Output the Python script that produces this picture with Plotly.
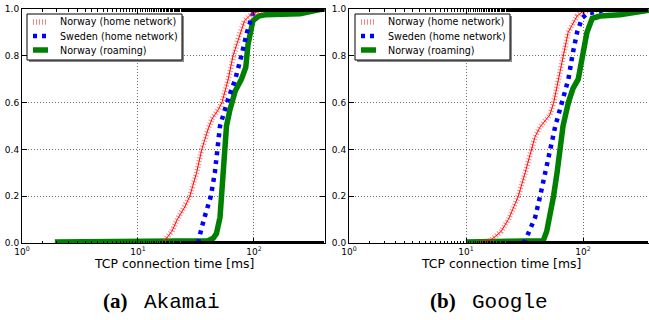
import plotly.graph_objects as go
import math

# ---------- data ----------
series_names = ["Norway (home network)", "Sweden (home network)", "Norway (roaming)"]

# (a) Akamai
ak_no_home_x = [16.4, 17.7, 19.6, 21.8, 25.4, 28, 32, 35.5, 40, 43.5, 49, 53, 60, 66, 71, 76, 83, 96, 129]
ak_no_home_y = [0.0, 0.02, 0.05, 0.10, 0.155, 0.20, 0.30, 0.40, 0.483, 0.53, 0.568, 0.60, 0.70, 0.80, 0.85, 0.90, 0.95, 0.98, 1.0]
ak_se_home_x = [33, 33.6, 37, 40, 42.5, 46, 48, 51, 58.5, 69, 78, 87, 98, 115]
ak_se_home_y = [0.0, 0.02, 0.10, 0.155, 0.20, 0.30, 0.40, 0.50, 0.60, 0.70, 0.80, 0.90, 0.98, 1.0]
ak_no_roam_x = [1.92, 30, 40, 44.5, 47.5, 51, 52.5, 54, 56, 58, 62, 69, 78, 85, 89, 93, 98, 110, 125, 250, 300, 370, 420]
ak_no_roam_y = [0.004, 0.005, 0.01, 0.02, 0.04, 0.11, 0.20, 0.27, 0.40, 0.50, 0.568, 0.65, 0.70, 0.75, 0.85, 0.90, 0.95, 0.97, 0.975, 0.98, 0.99, 0.998, 1.0]

# (b) Google
go_no_home_x = [12.4, 16, 18, 20, 23, 25.5, 28, 32, 36.5, 38.9, 43, 52, 56, 61.5, 67.7, 74.6, 89, 100, 148]
go_no_home_y = [0.0, 0.01, 0.03, 0.05, 0.10, 0.15, 0.20, 0.30, 0.40, 0.454, 0.496, 0.547, 0.597, 0.70, 0.80, 0.90, 0.97, 0.99, 1.0]
go_se_home_x = [30.8, 32, 35.4, 39, 43, 47.6, 52, 58, 66, 75, 81, 89, 98, 108, 150, 208]
go_se_home_y = [0.0, 0.01, 0.06, 0.11, 0.20, 0.30, 0.40, 0.50, 0.60, 0.70, 0.80, 0.90, 0.96, 0.98, 0.995, 1.0]
go_no_roam_x = [10, 40, 45.7, 49, 52, 56, 60, 64, 67.5, 75, 82, 91, 100, 108, 120, 140, 207, 290, 366]
go_no_roam_y = [0.004, 0.005, 0.01, 0.05, 0.11, 0.20, 0.30, 0.40, 0.50, 0.60, 0.66, 0.70, 0.80, 0.90, 0.96, 0.97, 0.975, 0.985, 0.995]

y_ticks = [0.0, 0.2, 0.4, 0.6, 0.8, 1.0]
x_ticks = [1, 10, 100]
x_tick_text = ["10<sup>0</sup>", "10<sup>1</sup>", "10<sup>2</sup>"]
x_title = "TCP connection time [ms]"
captions = [("(a)", "Akamai"), ("(b)", "Google")]

# ---------- styles ----------
RED_TICK = dict(color="rgba(255,60,60,0.65)", width=5.5, dash="1px,2px")
RED_LINE = dict(color="#ff0000", width=1)
BLUE = dict(color="#0000ff", width=4.5, dash="4px,5px")
GREEN = dict(color="#008000", width=5.5)
GRID_COLOR = "#707070"
GRID_DASH = "1px,2px"

# ---------- layout geometry (reference pixel coordinates) ----------
W, H = 649, 320
def px(x):
    return x / W
def py(y):
    return 1 - y / H

fig = go.Figure()

panels = [
    ("x", "y", [(ak_no_home_x, ak_no_home_y), (ak_se_home_x, ak_se_home_y), (ak_no_roam_x, ak_no_roam_y)]),
    ("x2", "y2", [(go_no_home_x, go_no_home_y), (go_se_home_x, go_se_home_y), (go_no_roam_x, go_no_roam_y)]),
]

for xa, ya, data in panels:
    (rx, ry), (bx, by), (gx, gy) = data
    fig.add_trace(go.Scatter(x=gx, y=gy, mode="lines", name=series_names[2], xaxis=xa, yaxis=ya, line=GREEN))
    fig.add_trace(go.Scatter(x=bx, y=by, mode="lines", name=series_names[1], xaxis=xa, yaxis=ya, line=BLUE))
    fig.add_trace(go.Scatter(x=rx, y=ry, mode="lines", name=series_names[0], xaxis=xa, yaxis=ya, line=RED_TICK))
    fig.add_trace(go.Scatter(x=rx, y=ry, mode="lines", name=series_names[0], xaxis=xa, yaxis=ya, line=RED_LINE,
                             hoverinfo="skip"))

axis_common = dict(
    type="log", showline=True, linecolor="black", linewidth=1, mirror="allticks",
    ticks="inside", ticklen=5, tickcolor="black",
    tickvals=x_ticks, ticktext=x_tick_text,
    tickfont=dict(family="DejaVu Sans", size=9, color="black"),
    showgrid=True, gridcolor=GRID_COLOR, griddash=GRID_DASH, gridwidth=1,
    minor=dict(ticks="inside", ticklen=2.5, tickcolor="black", showgrid=False),
    zeroline=False, automargin=False,
)
yaxis_common = dict(
    range=[0, 1], showline=True, linecolor="black", linewidth=1, mirror="allticks",
    ticks="inside", ticklen=5, tickcolor="black",
    tickvals=y_ticks, ticktext=[f"{v:.1f}" for v in y_ticks],
    tickfont=dict(family="DejaVu Sans", size=9, color="black"),
    showgrid=True, gridcolor=GRID_COLOR, griddash=GRID_DASH, gridwidth=1, zeroline=False,
    automargin=False,
)

l1, r1 = 22, 325
l2 = 349
dec2 = 117
r2_log = (W - l2) / dec2
ytop, ybot = 9, 243

fig.update_layout(
    width=W, height=H, margin=dict(l=0, r=0, t=0, b=0, autoexpand=False),
    paper_bgcolor="white", plot_bgcolor="white", showlegend=False,
    xaxis=dict(axis_common, domain=[px(l1), px(r1)], range=[0, math.log10(410)], anchor="y"),
    yaxis=dict(yaxis_common, domain=[py(ybot), py(ytop)], anchor="x"),
    xaxis2=dict(axis_common, domain=[px(l2), 1.0], range=[0, r2_log], anchor="y2"),
    yaxis2=dict(yaxis_common, domain=[py(ybot), py(ytop)], anchor="x2", mirror=False),
)

anns = []
shapes = []
for cx in [(l1 + r1) / 2, (l2 + l2 + 2.6 * dec2) / 2]:
    anns.append(dict(x=px(cx), y=py(263), xref="paper", yref="paper", text=x_title, showarrow=False,
                     font=dict(family="DejaVu Sans", size=12.4, color="black"), xanchor="center", yanchor="middle"))
cap_pos = [(130, 142), (458, 470)]
for (lab, name), (xe, xs) in zip(captions, cap_pos):
    anns.append(dict(x=px(xe), y=py(301), xref="paper", yref="paper", text=f"<b>{lab}</b>", showarrow=False,
                     font=dict(family="Liberation Serif", size=21, color="black"), xanchor="right", yanchor="middle"))
    anns.append(dict(x=px(xs), y=py(302), xref="paper", yref="paper", text=name, showarrow=False,
                     font=dict(family="Liberation Mono", size=21, color="black"), xanchor="left", yanchor="middle"))

# manual legends (matplotlib-style compact legend with shadow)
leg_boxes = [(27, 182), (355, 510)]
row_y = [22, 36, 50]
for (bl, br) in leg_boxes:
    shapes.append(dict(type="rect", xref="paper", yref="paper", x0=px(bl + 2), x1=px(br + 2), y0=py(62), y1=py(16),
                       line=dict(width=0), fillcolor="#888888", layer="above"))
    shapes.append(dict(type="rect", xref="paper", yref="paper", x0=px(bl), x1=px(br), y0=py(60), y1=py(14),
                       line=dict(color="black", width=1), fillcolor="white", layer="above"))
    styles = [[RED_TICK], [BLUE], [GREEN]]
    for i, (name, sty) in enumerate(zip(series_names, styles)):
        for s in sty:
            shapes.append(dict(type="line", xref="paper", yref="paper", x0=px(bl + 6), x1=px(bl + 21),
                               y0=py(row_y[i]), y1=py(row_y[i]), line=s, layer="above"))
        anns.append(dict(x=px(bl + 31), y=py(row_y[i]), xref="paper", yref="paper", text=name, showarrow=False,
                         font=dict(family="DejaVu Sans", size=9.6, color="black"), xanchor="left", yanchor="middle"))

fig.update_layout(annotations=anns, shapes=shapes)

# remove the browser's default 8px body margin so the figure sits at the window origin; hide the mode bar
fig.write_html("out.html", config={"displayModeBar": False},
               post_script="document.body.style.margin='0';")
